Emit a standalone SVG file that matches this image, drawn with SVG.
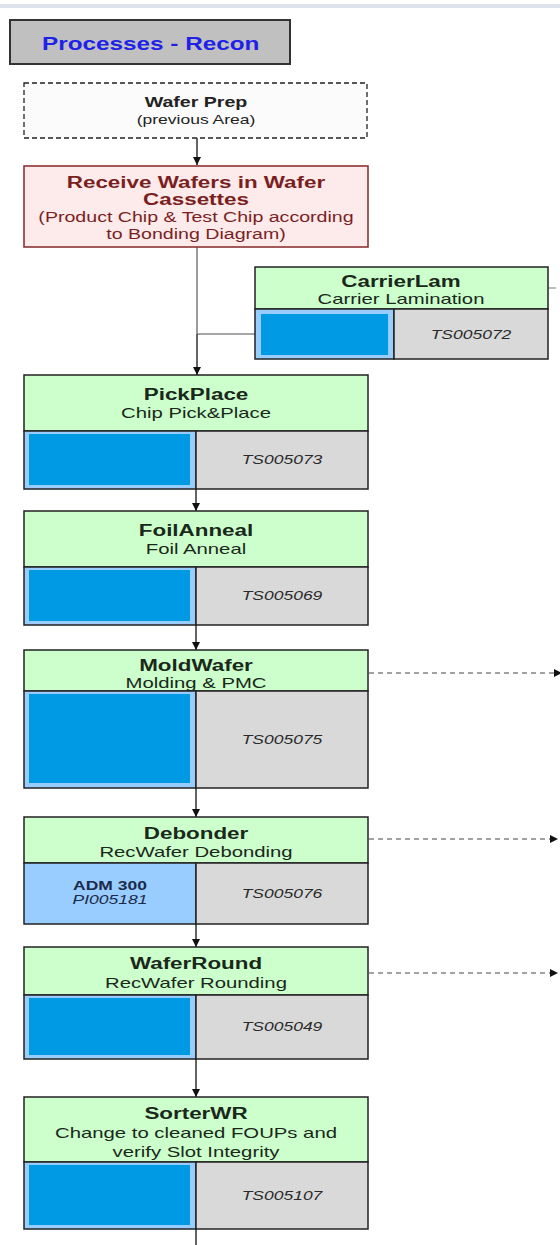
<svg xmlns="http://www.w3.org/2000/svg" width="560" height="1245" viewBox="0 0 560 1245">
<style>
  text { font-family: "Liberation Sans", Arial, sans-serif; }
  .ttl { font-size: 18px; font-weight: bold; fill: #1e22e8; }
  .nt { font-size: 16px; font-weight: bold; fill: #1a281a; text-anchor: middle; }
  .ns { font-size: 14.5px; fill: #1a281a; text-anchor: middle; }
  .ts { font-size: 12.5px; font-style: italic; fill: #2a2a2a; text-anchor: middle; }
  .hdr { fill: #ccffcc; stroke: #222; stroke-width: 1.5; }
  .gry { fill: #d9d9d9; stroke: #222; stroke-width: 1.5; }
  .blo { fill: #99ccff; stroke: #222; stroke-width: 1.5; }
  .bli { fill: #0099e3; }
  .con { stroke: #111; stroke-width: 1.3; fill: none; }
  .dsh { stroke: #444; stroke-width: 1; stroke-dasharray: 5 4; fill: none; }
</style>
<defs>
  <marker id="ah" viewBox="0 0 10 10" refX="10" refY="5" markerWidth="8" markerHeight="8" markerUnits="userSpaceOnUse" orient="auto">
    <path d="M0,0 L10,5 L0,10 z" fill="#111"/>
  </marker>
</defs>
<rect x="0" y="0" width="560" height="1245" fill="#ffffff"/>
<rect x="0" y="4" width="560" height="4" fill="#dde2ec"/>

<g id="title">
  <rect x="10" y="20" width="280" height="44" fill="#c0c0c0" stroke="#333" stroke-width="2"/>
  <text class="ttl" transform="translate(42,50) scale(1.35,1)">Processes - Recon</text>
</g>

<g id="connectors">
  <line class="con" x1="197" y1="138" x2="197" y2="165" marker-end="url(#ah)"/>
  <line x1="197" y1="247" x2="197" y2="334" stroke="#666" stroke-width="1.3"/>
  <line x1="197" y1="334" x2="255" y2="334" stroke="#888" stroke-width="1.3"/>
  <line x1="548" y1="288" x2="556" y2="288" stroke="#999" stroke-width="1.3"/>
  <line class="con" x1="197" y1="334" x2="197" y2="375" marker-end="url(#ah)"/>
  <line class="con" x1="196" y1="489" x2="196" y2="511" marker-end="url(#ah)"/>
  <line class="con" x1="196" y1="625" x2="196" y2="650" marker-end="url(#ah)"/>
  <line class="con" x1="196" y1="788" x2="196" y2="817" marker-end="url(#ah)"/>
  <line class="con" x1="196" y1="924" x2="196" y2="947" marker-end="url(#ah)"/>
  <line class="con" x1="196" y1="1059" x2="196" y2="1097" marker-end="url(#ah)"/>
  <line class="con" x1="196" y1="1229" x2="196" y2="1245"/>
  <line class="dsh" x1="369" y1="673" x2="562" y2="673" marker-end="url(#ah)"/>
  <line class="dsh" x1="369" y1="839" x2="558" y2="839" marker-end="url(#ah)"/>
  <line class="dsh" x1="369" y1="973" x2="558" y2="973" marker-end="url(#ah)"/>
</g>

<g id="waferprep">
  <rect x="24" y="83" width="343" height="55" fill="#fbfbfb" stroke="#222" stroke-width="1.3" stroke-dasharray="5 3"/>
  <g transform="translate(196,0) scale(1.4,1)">
    <text class="nt" x="0" y="107" style="font-size:14px;fill:#222">Wafer Prep</text>
    <text class="ns" x="0" y="124" style="font-size:12.5px;fill:#222">(previous Area)</text>
  </g>
</g>

<g id="receive">
  <rect x="24" y="166" width="344" height="81" fill="#fdeaea" stroke="#8b3434" stroke-width="1.6"/>
  <g transform="translate(196,0) scale(1.4,1)">
    <text class="nt" x="0" y="188" style="fill:#7a1f1f">Receive Wafers in Wafer</text>
    <text class="nt" x="0" y="205" style="fill:#7a1f1f">Cassettes</text>
    <text class="ns" x="0" y="222" style="font-size:14px;fill:#7a1f1f">(Product Chip &amp; Test Chip according</text>
    <text class="ns" x="0" y="239" style="font-size:14px;fill:#7a1f1f">to Bonding Diagram)</text>
  </g>
</g>

<g id="carrierlam">
  <rect class="hdr" x="255" y="267" width="293" height="42"/>
  <rect class="blo" x="255" y="309" width="139" height="50"/>
  <rect class="bli" x="261" y="314" width="127" height="41"/>
  <rect class="gry" x="394" y="309" width="154" height="50"/>
  <g transform="translate(401,0) scale(1.4,1)">
    <text class="nt" x="0" y="287">CarrierLam</text>
    <text class="ns" x="0" y="304">Carrier Lamination</text>
  </g>
  <text class="ts" transform="translate(471,339) scale(1.4,1)">TS005072</text>
</g>

<g id="pickplace">
  <rect class="hdr" x="24" y="375" width="344" height="56"/>
  <rect class="blo" x="24" y="431" width="172" height="58"/>
  <rect class="bli" x="29" y="434" width="161" height="51"/>
  <rect class="gry" x="196" y="431" width="172" height="58"/>
  <g transform="translate(196,0) scale(1.4,1)">
    <text class="nt" x="0" y="400">PickPlace</text>
    <text class="ns" x="0" y="418">Chip Pick&amp;Place</text>
  </g>
  <text class="ts" transform="translate(282,464) scale(1.4,1)">TS005073</text>
</g>

<g id="foilanneal">
  <rect class="hdr" x="24" y="511" width="344" height="56"/>
  <rect class="blo" x="24" y="567" width="172" height="58"/>
  <rect class="bli" x="29" y="570" width="161" height="51"/>
  <rect class="gry" x="196" y="567" width="172" height="58"/>
  <g transform="translate(196,0) scale(1.4,1)">
    <text class="nt" x="0" y="536">FoilAnneal</text>
    <text class="ns" x="0" y="554">Foil Anneal</text>
  </g>
  <text class="ts" transform="translate(282,600) scale(1.4,1)">TS005069</text>
</g>

<g id="moldwafer">
  <rect class="hdr" x="24" y="650" width="344" height="41"/>
  <rect class="blo" x="24" y="691" width="172" height="97"/>
  <rect class="bli" x="29" y="694" width="161" height="89"/>
  <rect class="gry" x="196" y="691" width="172" height="97"/>
  <g transform="translate(196,0) scale(1.4,1)">
    <text class="nt" x="0" y="671">MoldWafer</text>
    <text class="ns" x="0" y="688">Molding &amp; PMC</text>
  </g>
  <text class="ts" transform="translate(282,744) scale(1.4,1)">TS005075</text>
</g>

<g id="debonder">
  <rect class="hdr" x="24" y="817" width="344" height="46"/>
  <rect class="blo" x="24" y="863" width="172" height="61"/>
  <rect class="gry" x="196" y="863" width="172" height="61"/>
  <g transform="translate(196,0) scale(1.4,1)">
    <text class="nt" x="0" y="839">Debonder</text>
    <text class="ns" x="0" y="857">RecWafer Debonding</text>
  </g>
  <g transform="translate(110,0) scale(1.4,1)">
    <text class="ts" x="0" y="890" style="font-style:normal;font-weight:bold;fill:#1a2a4a">ADM 300</text>
    <text class="ts" x="0" y="904" style="fill:#1a2a4a">PI005181</text>
  </g>
  <text class="ts" transform="translate(282,898) scale(1.4,1)">TS005076</text>
</g>

<g id="waferround">
  <rect class="hdr" x="24" y="947" width="344" height="48"/>
  <rect class="blo" x="24" y="995" width="172" height="64"/>
  <rect class="bli" x="29" y="998" width="161" height="57"/>
  <rect class="gry" x="196" y="995" width="172" height="64"/>
  <g transform="translate(196,0) scale(1.4,1)">
    <text class="nt" x="0" y="969">WaferRound</text>
    <text class="ns" x="0" y="988">RecWafer Rounding</text>
  </g>
  <text class="ts" transform="translate(282,1031) scale(1.4,1)">TS005049</text>
</g>

<g id="sorterwr">
  <rect class="hdr" x="24" y="1097" width="344" height="65"/>
  <rect class="blo" x="24" y="1162" width="172" height="67"/>
  <rect class="bli" x="29" y="1165" width="161" height="60"/>
  <rect class="gry" x="196" y="1162" width="172" height="67"/>
  <g transform="translate(196,0) scale(1.4,1)">
    <text class="nt" x="0" y="1119">SorterWR</text>
    <text class="ns" x="0" y="1138">Change to cleaned FOUPs and</text>
    <text class="ns" x="0" y="1157">verify Slot Integrity</text>
  </g>
  <text class="ts" transform="translate(282,1200) scale(1.4,1)">TS005107</text>
</g>
</svg>
